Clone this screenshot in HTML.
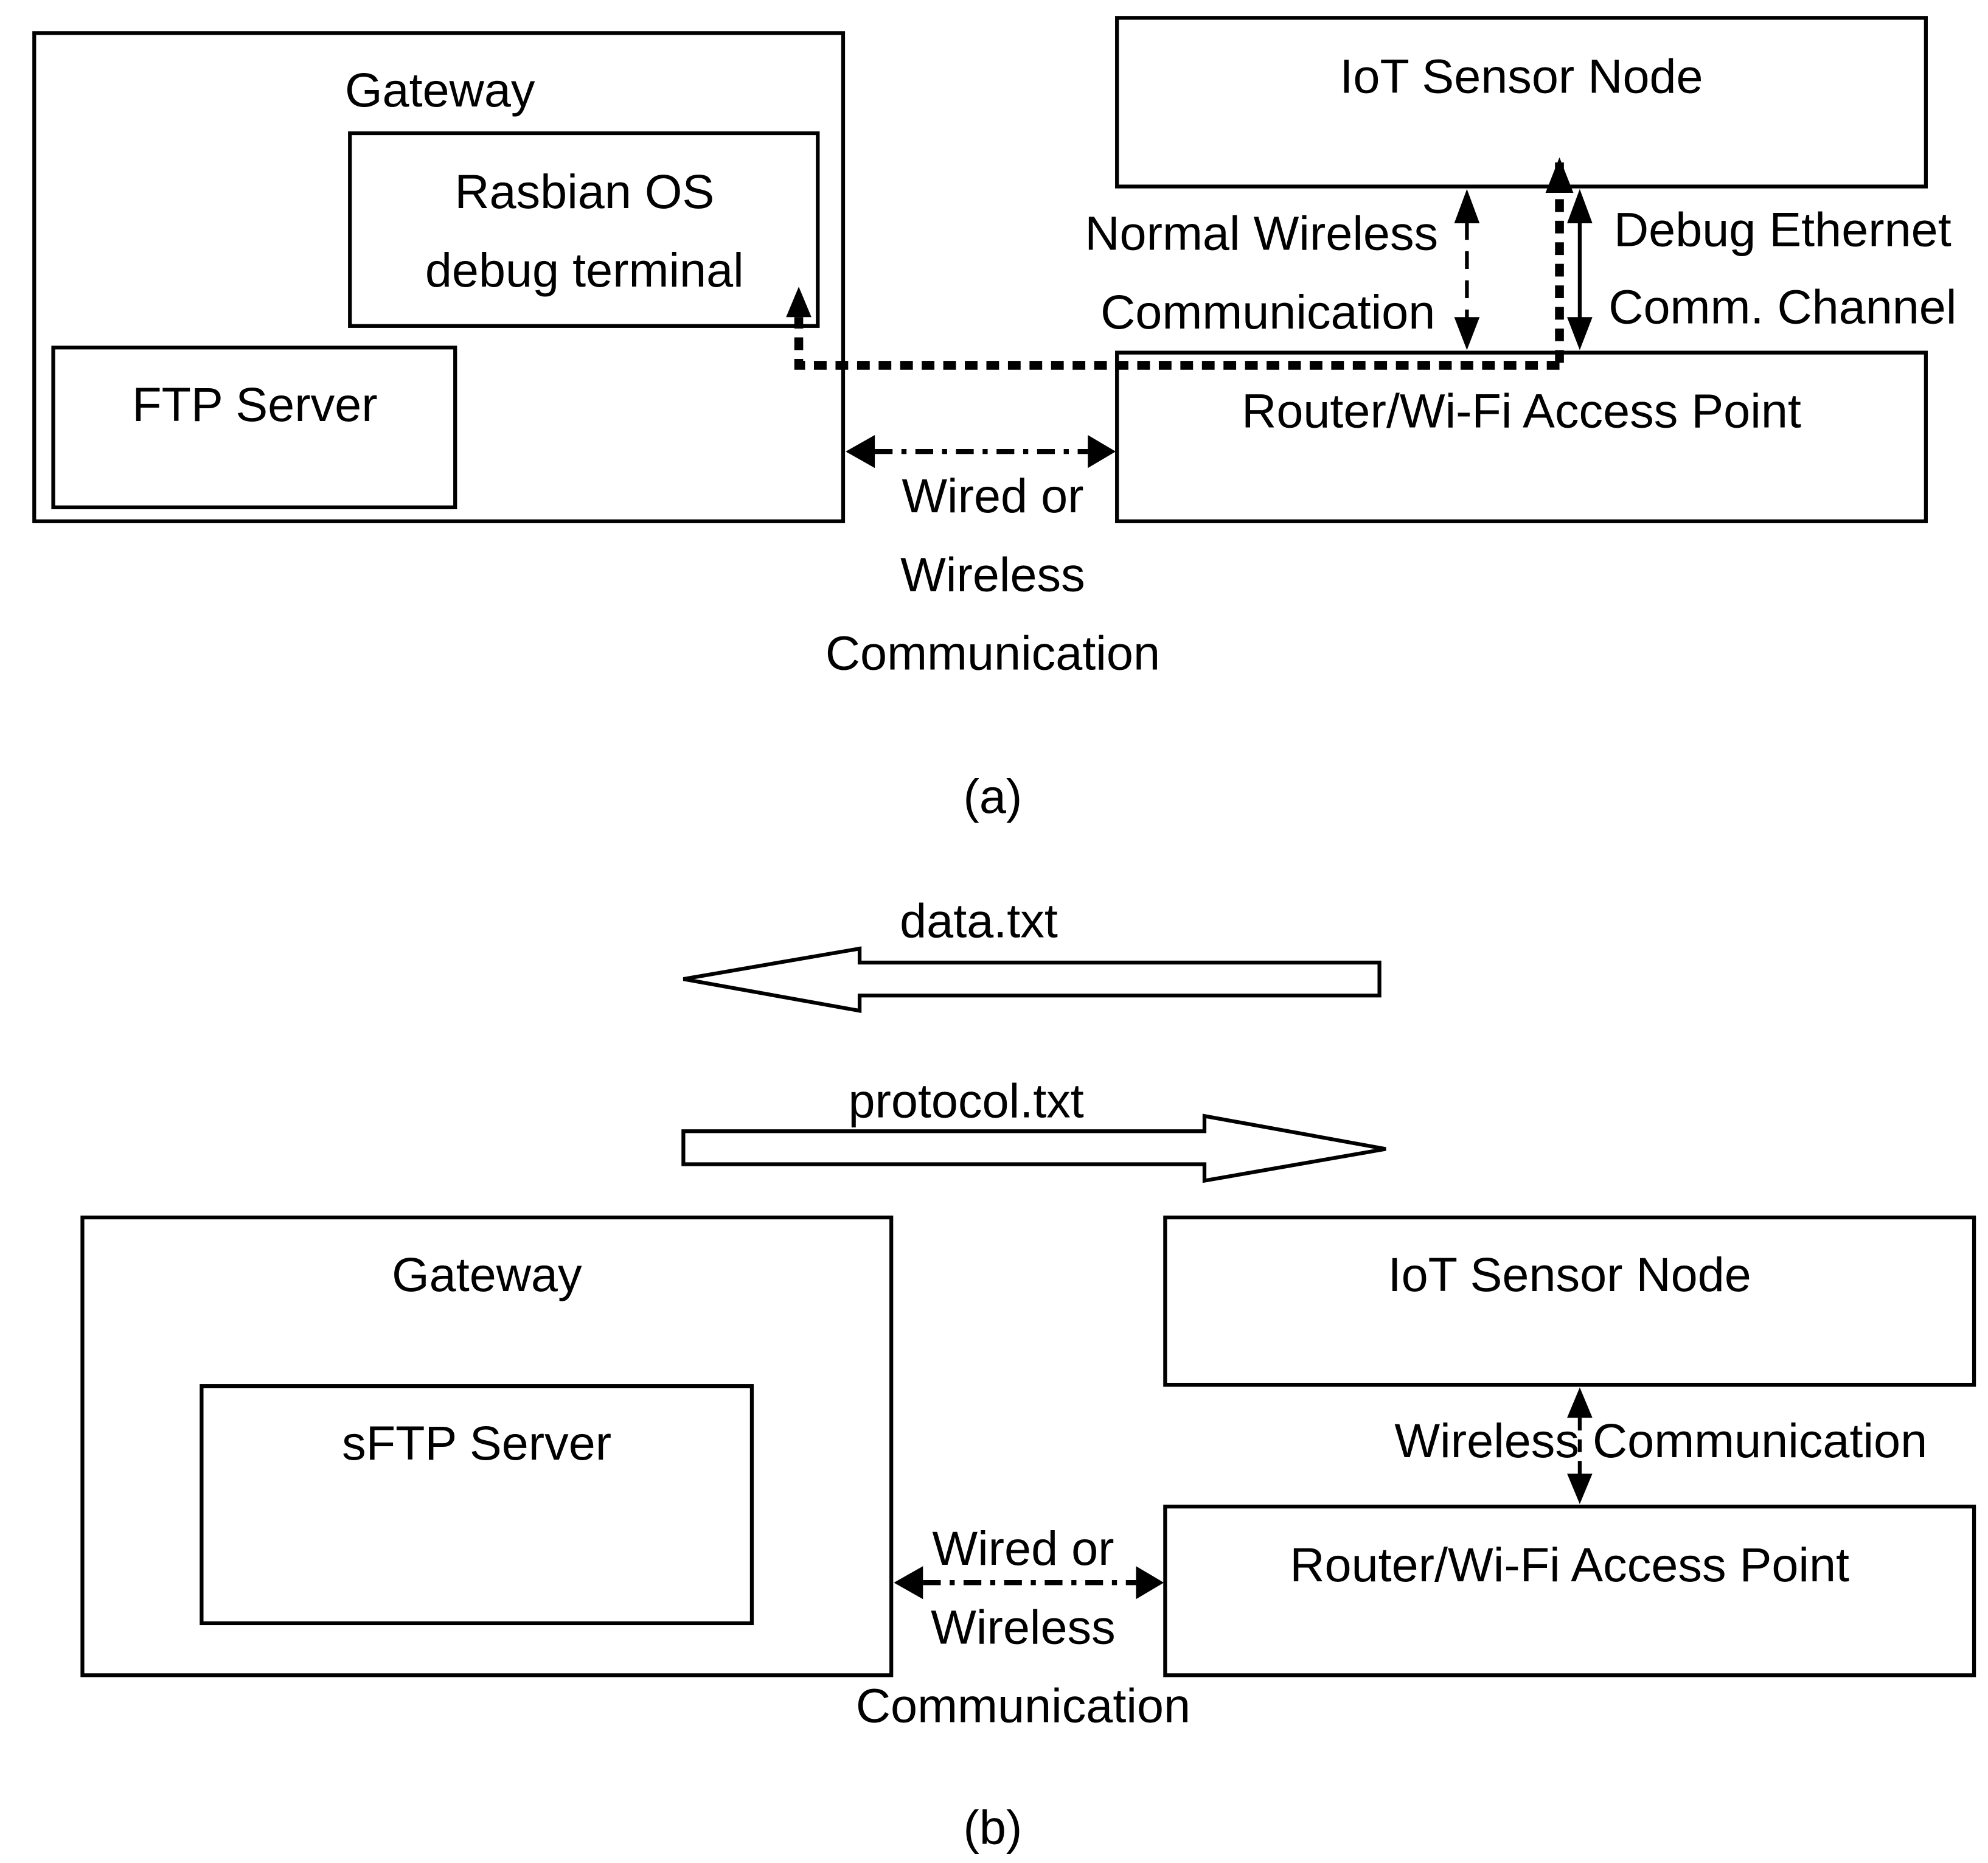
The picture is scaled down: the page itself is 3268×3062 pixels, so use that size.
<!DOCTYPE html>
<html><head><meta charset="utf-8"><style>html,body{margin:0;padding:0;background:#fff}svg{display:block}</style></head>
<body>
<svg width="3268" height="3062" viewBox="0 0 1568 1469" xmlns="http://www.w3.org/2000/svg" font-family="Liberation Sans, sans-serif" font-size="38">
<g fill="none" stroke="#000" stroke-width="3">
<rect x="27" y="26" width="638" height="385"/>
<rect x="276" y="105" width="369" height="152"/>
<rect x="42" y="274" width="317" height="126"/>
<rect x="881" y="14" width="638" height="133"/>
<rect x="881" y="278" width="638" height="133"/>
<rect x="65" y="960" width="638" height="361"/>
<rect x="159" y="1093" width="434" height="187"/>
<rect x="919" y="960" width="638" height="132"/>
<rect x="919" y="1188" width="638" height="133"/>
<path d="M539,772 L678,748 L678,759 L1088,759 L1088,785 L678,785 L678,797 Z"/>
<path d="M1093,906 L950,880 L950,892 L539,892 L539,918 L950,918 L950,931 Z"/>
</g>
<g stroke="#000" fill="none">
<path d="M1230,286 L1230,128" stroke-width="7" stroke-dasharray="10,7"/>
<path d="M1230,288 L630,288 L630,250" stroke-width="7" stroke-dasharray="10,7"/>
<polygon points="630,226 620,250 640,250" fill="#000" stroke="none"/>
<polygon points="1230,124 1219,152 1241,152" fill="#000" stroke="none"/>
<path d="M1157,175 L1157,252" stroke-width="3" stroke-dasharray="14,9"/>
<polygon points="1157,149 1147,176 1167,176" fill="#000" stroke="none"/>
<polygon points="1157,276 1147,250 1167,250" fill="#000" stroke="none"/>
<path d="M1246,175 L1246,252" stroke-width="3"/>
<polygon points="1246,149 1236,176 1256,176" fill="#000" stroke="none"/>
<polygon points="1246,276 1236,250 1256,250" fill="#000" stroke="none"/>
<path d="M690,356 L858,356" stroke-width="4" stroke-dasharray="14,7,4,7"/>
<polygon points="667,356 690,343 690,369" fill="#000" stroke="none"/>
<polygon points="880,356 858,343 858,369" fill="#000" stroke="none"/>
<path d="M728,1248 L896,1248" stroke-width="4" stroke-dasharray="14,7,4,7"/>
<polygon points="705,1248 728,1235 728,1261" fill="#000" stroke="none"/>
<polygon points="918,1248 896,1235 896,1261" fill="#000" stroke="none"/>
<path d="M1246,1118 L1246,1162" stroke-width="3" stroke-dasharray="10,7"/>
<polygon points="1246,1094 1236,1118 1256,1118" fill="#000" stroke="none"/>
<polygon points="1246,1186 1236,1162 1256,1162" fill="#000" stroke="none"/>
</g>
<g fill="#000" text-anchor="middle">
<text x="347" y="84">Gateway</text>
<text x="461" y="164">Rasbian OS</text>
<text x="461" y="226">debug terminal</text>
<text x="201" y="332">FTP Server</text>
<text x="1200" y="73">IoT Sensor Node</text>
<text x="995" y="197">Normal Wireless</text>
<text x="1000" y="259">Communication</text>
<text x="1406" y="194">Debug Ethernet</text>
<text x="1406" y="255">Comm. Channel</text>
<text x="1200" y="337">Router/Wi-Fi Access Point</text>
<text x="783" y="404">Wired or</text>
<text x="783" y="466">Wireless</text>
<text x="783" y="528">Communication</text>
<text x="783" y="641">(a)</text>
<text x="772" y="739">data.txt</text>
<text x="762" y="881">protocol.txt</text>
<text x="384" y="1018">Gateway</text>
<text x="376" y="1151">sFTP Server</text>
<text x="1238" y="1018">IoT Sensor Node</text>
<text x="1310" y="1149">Wireless Communication</text>
<text x="1238" y="1247">Router/Wi-Fi Access Point</text>
<text x="807" y="1234">Wired or</text>
<text x="807" y="1296">Wireless</text>
<text x="807" y="1358">Communication</text>
<text x="783" y="1454">(b)</text>
</g>
</svg>
</body></html>
